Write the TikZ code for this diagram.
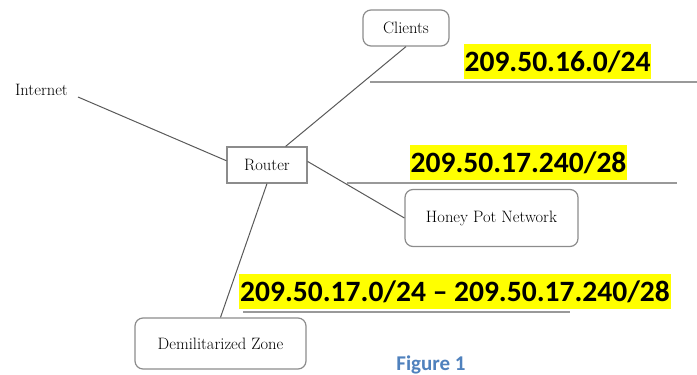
\documentclass[tikz,border=0pt]{standalone}
\usepackage{fontspec}
\newfontfamily\calibri{Carlito}
\usepackage{tikz}
\usetikzlibrary{positioning}
\definecolor{capblue}{RGB}{79,129,189}
\definecolor{hilite}{RGB}{255,255,0}

\begin{document}
\begin{tikzpicture}[
		x=1pt, y=-1pt,
		every node/.style={
			font=\fontsize{16.5}{19}\selectfont
		},
		netbox/.style={draw=black!45, line width=1.2pt, rounded corners=8pt, inner sep=0pt},
		routerbox/.style={draw=black!45, line width=1.2pt, inner sep=0pt, minimum width=80pt, minimum height=36pt},
		subnet/.style={fill=hilite, inner xsep=1pt, inner ysep=2pt, text height=26pt, text depth=5pt,
			font=\calibri\bfseries\fontsize{29.5}{35}\selectfont},
		wire/.style={draw=black!65, line width=1pt},
		netline/.style={draw=black!40, line width=1.5pt}
		]
		
		\useasboundingbox (0,0) rectangle (697,375);
		
		\node[routerbox] (router) at (267,165) {Router};
		
		\node[netbox, minimum width=86pt, minimum height=36pt] (clients) at (406,28) {Clients};
		
		\node[netbox, minimum width=173pt, minimum height=57pt] (honeypot) at (491.5,218) {Honey Pot Network};
		
		\node[netbox, minimum width=171pt, minimum height=51pt] (dmz) at (220.5,343.5) {Demilitarized Zone};
		
		\node[anchor=south east, inner xsep=10pt, inner ysep=1pt] (internet) at (78,97) {Internet};
		
		\node[subnet] (net16) at (557.5,61) {209.50.16.0/24};
		\node[subnet] (net240) at (518.5,162) {209.50.17.240/28};
		\node[subnet] (net17) at (455,291) {209.50.17.0/24 – 209.50.17.240/28};
		
		\node[font=\calibri\bfseries\fontsize{21}{25}\selectfont, text=capblue] (caption) at (431,365) {Figure 1};
		
		\coordinate (r16a) at (370,82);
		\coordinate (r16b) at (697,82);
		\coordinate (r240a) at (347,183);
		\coordinate (r240b) at (677,183);
		\coordinate (r17a) at (243,312);
		\coordinate (r17b) at (570,312);
		
		\draw[wire] (internet.south east)--(router.174);
		\draw[wire] (router.45)--(clients.south);
		\draw[wire] (router.5)--(honeypot.west);
		\draw[wire] (router.south)--(dmz.north);
		
		\draw[netline] (r16a)--(r16b);
		\draw[netline] (r240a)--(r240b);
		\draw[netline] (r17a)--(r17b);
		
	\end{tikzpicture}
\end{document}
